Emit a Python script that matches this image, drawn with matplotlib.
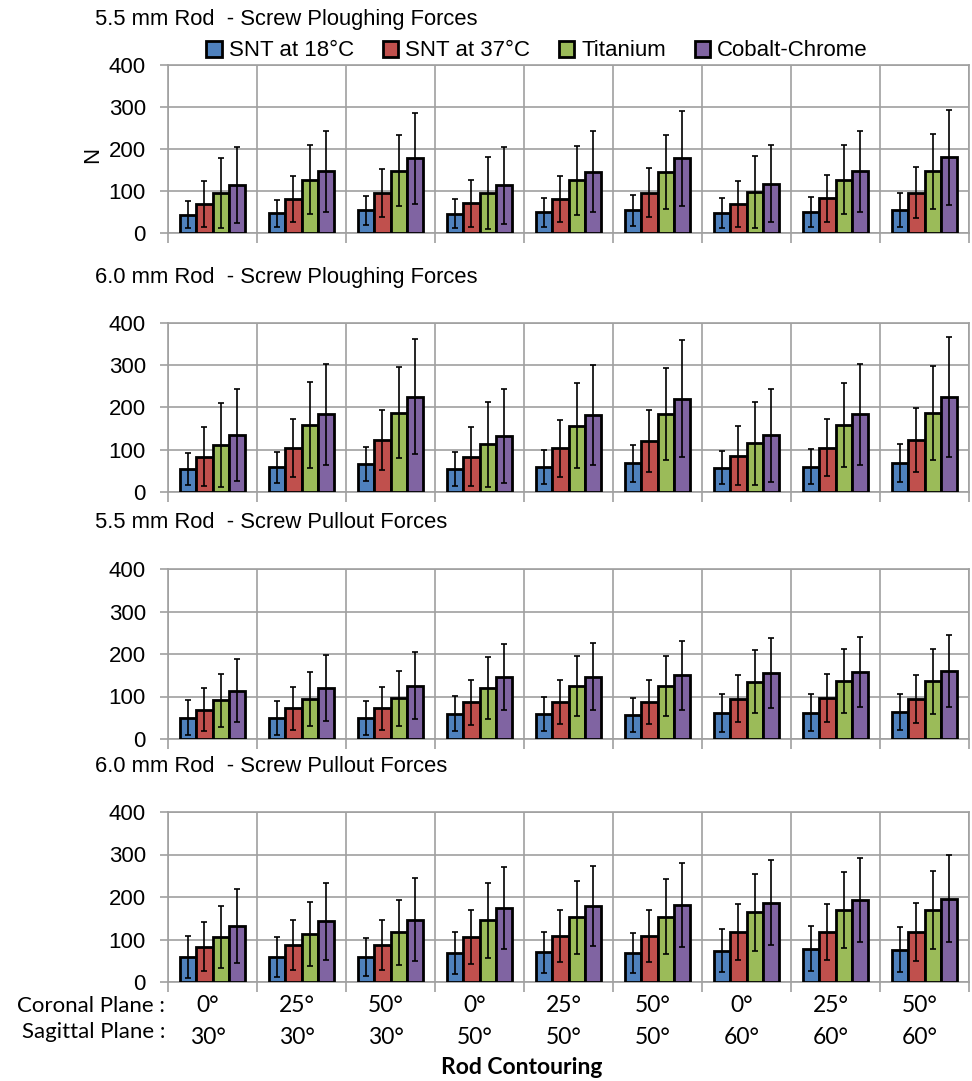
import numpy as np
import matplotlib
matplotlib.use("Agg")
import matplotlib.pyplot as plt
from matplotlib.patches import Patch

plt.rcParams['font.family'] = ['Liberation Sans', 'DejaVu Sans']

series = ['SNT at 18°C', 'SNT at 37°C', 'Titanium', 'Cobalt-Chrome']
colors = ['#4F81BD', '#C0504D', '#9BBB59', '#8064A2']
coronal = ['0°', '25°', '50°', '0°', '25°', '50°', '0°', '25°', '50°']
sagittal = ['30°', '30°', '30°', '50°', '50°', '50°', '60°', '60°', '60°']

titles = ['5.5 mm Rod  - Screw Ploughing Forces',
          '6.0 mm Rod  - Screw Ploughing Forces',
          '5.5 mm Rod  - Screw Pullout Forces',
          '6.0 mm Rod  - Screw Pullout Forces']

# mean values, one row per series (SNT 18, SNT 37, Ti, CoCr)
plough_55_mean = [[43, 47, 54, 46, 49, 54, 47, 50, 54],
                  [69, 81, 96, 71, 80, 96, 69, 82, 96],
                  [95, 126, 148, 95, 125, 145, 97, 126, 147],
                  [114, 146, 178, 113, 145, 177, 117, 146, 180]]
plough_55_sd = [[32, 32, 35, 34, 35, 37, 35, 36, 40],
                [54, 54, 57, 56, 55, 59, 55, 55, 60],
                [84, 82, 84, 85, 82, 87, 85, 82, 89],
                [91, 96, 108, 92, 96, 112, 91, 97, 113]]

plough_60_mean = [[54, 58, 67, 54, 59, 68, 57, 60, 68],
                  [84, 104, 123, 84, 103, 121, 86, 105, 123],
                  [112, 159, 188, 113, 157, 184, 115, 159, 187],
                  [135, 184, 225, 133, 182, 221, 134, 184, 225]]
plough_60_sd = [[38, 37, 40, 40, 40, 44, 39, 42, 45],
                [70, 68, 72, 70, 68, 74, 70, 68, 76],
                [99, 102, 107, 100, 100, 109, 99, 100, 111],
                [109, 120, 136, 111, 118, 138, 110, 119, 141]]

pull_55_mean = [[50, 50, 50, 60, 59, 57, 61, 62, 64],
                [69, 72, 72, 87, 87, 87, 95, 96, 94],
                [91, 94, 96, 120, 124, 125, 135, 136, 136],
                [114, 120, 125, 146, 147, 150, 155, 158, 160]]
pull_55_sd = [[41, 40, 40, 42, 41, 40, 44, 43, 43],
              [50, 50, 50, 53, 52, 52, 56, 56, 57],
              [63, 64, 65, 72, 71, 70, 74, 75, 76],
              [75, 77, 79, 77, 78, 81, 82, 82, 85]]

pull_60_mean = [[59, 59, 59, 69, 70, 69, 74, 78, 76],
                [83, 87, 88, 106, 108, 108, 117, 117, 117],
                [106, 113, 117, 145, 152, 154, 164, 169, 169],
                [132, 143, 147, 174, 179, 182, 187, 192, 196]]
pull_60_sd = [[49, 47, 45, 49, 48, 47, 50, 53, 53],
              [58, 58, 59, 63, 62, 62, 66, 66, 68],
              [74, 75, 77, 88, 86, 88, 91, 90, 92],
              [88, 91, 97, 96, 95, 99, 99, 99, 103]]

panels = [(plough_55_mean, plough_55_sd),
          (plough_60_mean, plough_60_sd),
          (pull_55_mean, pull_55_sd),
          (pull_60_mean, pull_60_sd)]

W, H = 972, 1081
fig = plt.figure(figsize=(W / 100, H / 100), dpi=100)

# pixel boxes of the four plot areas (top, bottom)
ax_left, ax_right = 168, 969
boxes = [(64.5, 233), (323, 492), (569, 739), (812, 982)]
title_y = [20, 278, 523, 767]

grid_col = '#A0A0A0'
x = np.arange(len(coronal))
bw = 0.185

for k, ((means, sds), (top, bot)) in enumerate(zip(panels, boxes)):
    ax = fig.add_axes([ax_left / W, 1 - bot / H, (ax_right - ax_left) / W, (bot - top) / H])
    for i in range(4):
        ax.bar(x + (i - 1.5) * bw, means[i], bw, yerr=sds[i], color=colors[i],
               edgecolor='black', linewidth=2.0, zorder=3,
               error_kw=dict(ecolor='black', elinewidth=1.2, capsize=2.5, capthick=1.2, zorder=4))
    ax.set_xlim(-0.5, 8.5)
    ax.set_ylim(0, 400)
    ax.set_yticks([0, 100, 200, 300, 400])
    ax.set_xticks([])
    ax.set_xticks(np.arange(-0.5, 9, 1), minor=True)
    ax.grid(True, which='major', axis='y', color=grid_col, linewidth=1.2, zorder=0)
    ax.grid(True, which='minor', axis='x', color=grid_col, linewidth=1.2, zorder=0)
    ax.tick_params(axis='y', which='major', length=6, color=grid_col, width=1.2,
                   labelsize=16, pad=10)
    ax.tick_params(axis='x', which='minor', length=7, color=grid_col, width=1.2,
                   labelbottom=False)
    for s in ax.spines.values():
        s.set_color(grid_col)
        s.set_linewidth(1.2)
    fig.text(95 / W, 1 - title_y[k] / H, titles[k], fontsize=15.8, ha='left', va='center')

# y label only on the first panel
fig.text(93 / W, 1 - 155 / H, 'N', fontsize=16, rotation=90, ha='center', va='center')

# legend
handles = [Patch(facecolor=c, edgecolor='black', linewidth=2.0) for c in colors]
fig.legend(handles, series, loc='center', bbox_to_anchor=(537 / W, 1 - 51 / H), ncol=4,
           frameon=False, fontsize=16, handlelength=0.7, handleheight=0.7,
           handletextpad=0.3, columnspacing=1.3, borderpad=0)

# bottom category labels
cat_w = (ax_right - ax_left) / 9
lab_font = ['Lato', 'DejaVu Sans']
for j in range(9):
    cx = (ax_left + cat_w * (j + 0.5) - 5) / W
    fig.text(cx, 1 - 1005 / H, coronal[j], fontsize=16.5, family=lab_font, ha='center', va='center')
    fig.text(cx, 1 - 1037 / H, sagittal[j], fontsize=16.5, family=lab_font, ha='center', va='center')
fig.text(165 / W, 1 - 1006 / H, 'Coronal Plane :', fontsize=16, family=lab_font, ha='right', va='center')
fig.text(165 / W, 1 - 1032 / H, 'Sagittal Plane :', fontsize=16, family=lab_font, ha='right', va='center')
fig.text(522 / W, 1 - 1068 / H, 'Rod Contouring', fontsize=16.5, family=lab_font,
         fontweight='bold', ha='center', va='center')

fig.savefig('out.png', dpi=100)
